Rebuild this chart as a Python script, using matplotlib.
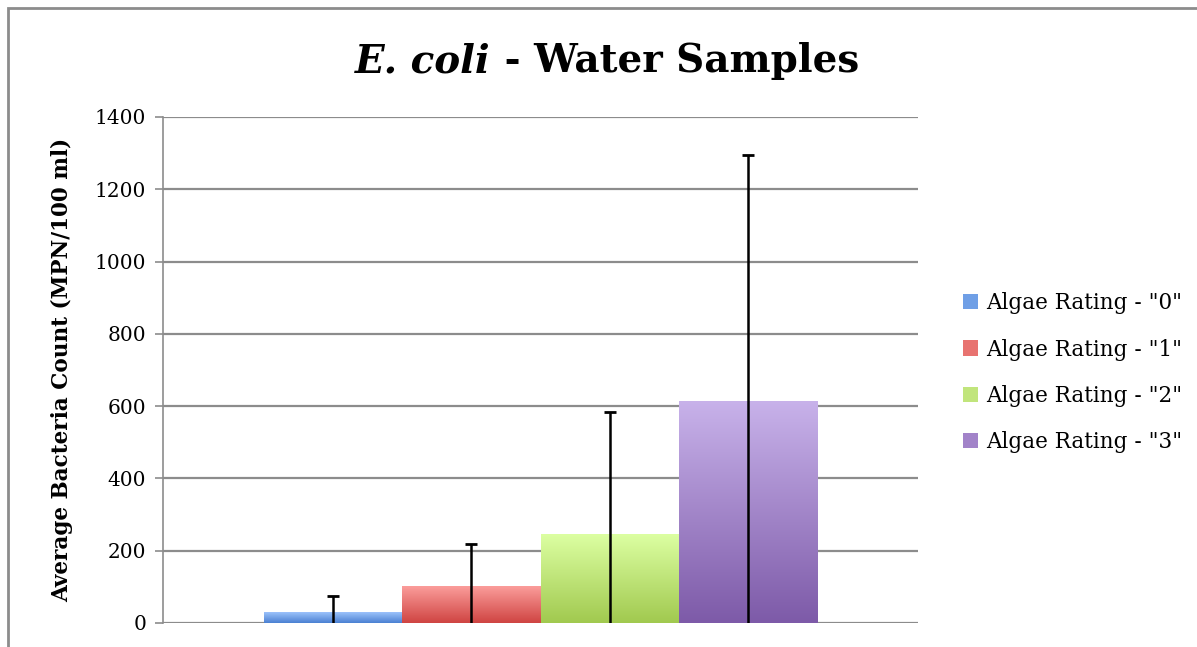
import numpy as np
import matplotlib.pyplot as plt
from matplotlib.colors import LinearSegmentedColormap
from matplotlib.patches import Rectangle

plt.rcParams['font.family'] = ['DejaVu Serif']

# data
labels = ['Algae Rating - "0"', 'Algae Rating - "1"', 'Algae Rating - "2"', 'Algae Rating - "3"']
means = [30, 102, 246, 614]
err_up = [46, 117, 339, 682]
yticks = [0, 200, 400, 600, 800, 1000, 1200, 1400]

# gradient colours (top, bottom)
grad = [('#9cc2fb', '#4a80d2'),
        ('#fb9d9b', '#cf4442'),
        ('#dcffa2', '#a1c94f'),
        ('#c8b2ea', '#7d5aa8')]
mid = ['#6f9fe6', '#e87370', '#c1e57c', '#a283c9']

fig = plt.figure(figsize=(11.97, 6.47), dpi=100)
ax = fig.add_axes([0.1362, 0.0371, 0.6308, 0.7821])

x = np.arange(len(means))
bars = ax.bar(x, means, width=1.0, color=mid, label=labels, zorder=2)

# vertical gradients inside each bar
for b, (top, bot) in zip(bars, grad):
    cmap = LinearSegmentedColormap.from_list('g', [bot, top])
    g = np.linspace(0, 1, 256).reshape(-1, 1)
    x0 = b.get_x()
    ax.imshow(g, cmap=cmap, origin='lower', aspect='auto', zorder=2.5,
              extent=[x0, x0 + b.get_width(), 0, b.get_height()])

# error stems run from the base, cap only at the top
means_a = np.array(means)
tops = means_a + np.array(err_up)
ax.errorbar(x, means_a, yerr=[means_a, err_up], fmt='none',
            ecolor='black', elinewidth=1.8, capsize=0, zorder=3)
ax.plot(x, tops, linestyle='none', marker='_', markersize=9,
        markeredgewidth=2, color='black', zorder=3)

ax.set_xlim(-1.23, 4.23)
ax.set_ylim(0, 1400)
ax.set_yticks(yticks)
ax.set_xticks([])
ax.yaxis.grid(True, color='#8c8c8c', linewidth=1.6, zorder=0)
ax.set_axisbelow(True)
for s in ['top', 'right', 'bottom']:
    ax.spines[s].set_visible(False)
ax.spines['left'].set_color('#8c8c8c')
ax.spines['left'].set_linewidth(1.2)
ax.tick_params(axis='y', length=6, width=1.2, color='#8c8c8c', labelsize=14.5, pad=6)
ax.set_ylabel('Average Bacteria Count (MPN/100 ml)', fontsize=15.5, fontweight='bold', labelpad=16)

# legend
handles = [Rectangle((0, 0), 1, 1, facecolor=c) for c in mid]
fig.legend(handles, labels, loc='upper left', bbox_to_anchor=(0.788, 0.578),
           frameon=False, fontsize=15.5, handlelength=0.7, handleheight=0.7,
           handletextpad=0.4, labelspacing=1.12)

# title: italic part + bold part, centred together
fig.canvas.draw()
r = fig.canvas.get_renderer()
t1 = fig.text(0, 0.905, 'E. coli', fontsize=28, fontweight='bold', fontstyle='italic', va='center')
t2 = fig.text(0, 0.905, ' - Water Samples', fontsize=28, fontweight='bold', va='center')
w1 = t1.get_window_extent(r).width
w2 = t2.get_window_extent(r).width
cx = 607
start = cx - (w1 + w2) / 2
t1.set_x(start / fig.bbox.width)
t2.set_x((start + w1) / fig.bbox.width)

# outer chart border (clipped at right/bottom in the original)
fig.patches.append(Rectangle((8 / 1197, -0.1), 1.2, 1.1 - 8 / 647,
                             transform=fig.transFigure, fill=False,
                             edgecolor='#8c8c8c', linewidth=2))

fig.savefig('out.png', dpi=100)
